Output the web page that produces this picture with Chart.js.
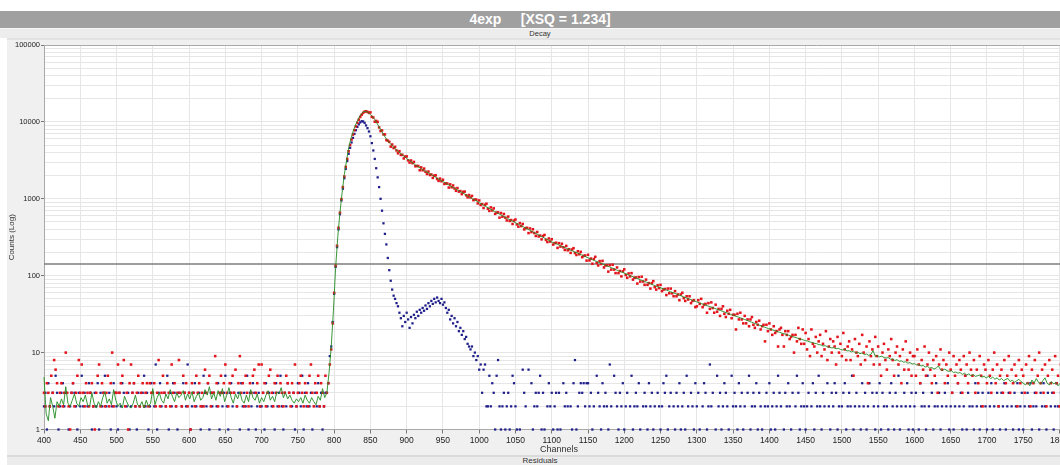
<!DOCTYPE html>
<html>
<head>
<meta charset="utf-8">
<title>4exp decay</title>
<script src="https://cdn.jsdelivr.net/npm/chart.js@4.4.1/dist/chart.umd.min.js"></script>
<style>
  html, body { margin: 0; padding: 0; }
  body {
    width: 1060px; height: 465px; overflow: hidden; position: relative;
    background: #ffffff; font-family: "Liberation Sans", Arial, sans-serif;
  }
  #titlebar {
    position: absolute; left: 0; top: 11px; width: 1080px; height: 17px;
    background: #a0a0a0; color: #ffffff; font-weight: bold; font-size: 14px;
    line-height: 17px; text-align: center; white-space: pre;
  }
  #subbar {
    position: absolute; left: 0; top: 28px; width: 1080px; height: 10px;
    background: #ededed; border-top: 1px solid #f6f6f6; box-sizing: border-box;
    color: #333; font-size: 7.5px; line-height: 9px; text-align: center;
  }
  #panel {
    position: absolute; left: 7px; top: 38px; width: 1100px; height: 417px;
    background: #f0f0f0; border-top: 2px solid #e2e2e2; box-sizing: border-box;
  }
  #decay { position: absolute; left: 0; top: 38px; }
  #resbar {
    position: absolute; left: 7px; top: 455px; width: 1100px; height: 10px;
    background: #ececec; border-top: 2px solid #dadada; box-sizing: border-box;
    color: #333; font-size: 8px; line-height: 8px; text-align: center;
  }
  #resbar span { position: absolute; left: 533px; transform: translateX(-50%); }
</style>
</head>
<body>
<div id="titlebar">4exp     [XSQ = 1.234]</div>
<div id="subbar">Decay</div>
<div id="panel"></div>
<canvas id="decay" width="1090" height="417"></canvas>
<div id="resbar"><span>Residuals</span></div>

<script>
/***************************************
 * 1. Data (counts per channel)
 ***************************************/
const firstChannel = 400;
const sampleStep = 2;   // decay + IRF channels: 400, 402, ...
const fitStep = 3;      // fit curve channels: 400, 403, ...

const channelTicks = [400, 450, 500, 550, 600, 650, 700, 750, 800, 850, 900, 950, 1000,
  1050, 1100, 1150, 1200, 1250, 1300, 1350, 1400, 1450, 1500, 1550, 1600, 1650, 1700, 1750, 1800];
const decadeLabels = ['1', '10', '100', '1000', '10000', '100000'];
const refLevel = 142;

// measured decay, one line per 50 channels
const decayCounts = [
  3,2,4,3,2,5,3,8,6,4,2,3,4,2,3,10,3,2,1,3,4,2,3,5,8,
  3,7,3,2,4,3,2,3,4,2,1,3,5,7,2,4,3,2,3,5,2,4,10,2,3,
  3,7,3,4,5,8,2,3,1,4,7,3,4,2,3,5,2,3,4,2,3,4,2,4,3,
  3,4,2,3,8,2,3,5,3,2,4,3,2,7,3,4,2,3,8,3,2,5,3,4,2,
  3,1,4,3,2,5,3,4,2,3,2,6,3,4,5,2,3,3,9,4,2,3,5,3,4,
  7,3,2,4,3,5,3,6,2,4,9,3,4,2,5,3,2,4,3,5,6,3,4,7,2,
  7,3,4,2,3,5,6,3,2,4,3,5,2,4,3,2,3,5,4,3,2,4,3,7,2,
  3,4,5,3,2,4,3,2,5,7,3,2,4,3,5,2,4,3,2,5,3,4,7,11,24,
  60,135,245,420,660,990,1420,1950,2600,3300,4150,5000,5900,6850,7800,8750,9750,10700,11600,12400,13100,13600,13750,13500,13100,
  13300,11640,11410,10060,10300,10000,8480,7600,7750,6880,6870,5810,5700,5510,4770,5080,4570,4730,4250,3910,4160,3720,3730,3350,3540,
  3560,3160,2960,3150,2910,3020,2650,2680,2660,2350,2560,2350,2470,2250,2100,2260,2040,2070,1870,2000,2020,1810,1710,1830,1690,
  1770,1560,1590,1580,1400,1540,1410,1490,1360,1270,1380,1240,1260,1150,1230,1240,1110,1045,1120,1040,1090,960,980,974,870,
  952,831,853,759,837,864,742,695,773,705,751,637,662,665,568,653,584,635,569,523,587,515,529,471,520,
  538,464,434,483,442,471,400,416,419,358,412,369,402,359,329,370,324,333,297,328,339,292,274,305,278,
  298,254,265,268,230,265,239,260,234,216,244,214,221,198,219,228,197,186,208,190,204,174,181,183,157,
  187,158,167,143,165,176,147,136,155,142,156,128,136,137,113,138,120,139,120,108,128,108,115,98,114,
  121,102,94,107,98,108,89,94,95,79,96,84,97,84,76,89,76,80,68,80,85,71,66,75,69,
  76,63,66,67,56,68,59,68,59,54,63,54,57,48,57,60,51,47,54,49,54,44,47,48,39,
  40,48,43,50,39,42,43,33,44,37,45,38,33,42,34,37,30,37,40,32,29,35,32,36,28,
  31,31,20,32,27,33,27,24,30,24,27,22,27,29,23,21,25,23,26,20,22,23,14,23,19,
  24,20,17,22,18,19,12,20,21,17,12,19,17,19,15,16,17,10,17,14,21,15,13,20,13,
  18,11,15,9,20,13,12,16,10,14,17,9,13,11,19,8,12,15,10,14,12,7,16,10,13,
  9,18,11,8,12,14,8,11,5,15,10,9,13,7,17,10,8,12,4,14,9,11,7,16,9,
  12,7,5,10,13,8,6,11,9,15,8,5,10,12,7,9,4,11,6,14,8,6,10,5,9,
  9,5,11,7,4,8,6,12,5,7,10,6,4,8,5,9,3,7,11,6,8,4,7,5,10,
  6,3,9,5,7,4,8,6,3,9,5,7,4,10,6,5,8,3,6,4,9,5,2,7,6,
  4,8,5,3,6,10,4,7,2,5,6,3,8,4,5,9,3,6,4,7,5,2,8,4,6,
  5,3,7,4,9,2,6,4,8,3,5,10,4,6,3,7,2,5,8,4,6,3,9,4,5,
  2,7,4,6,3,8,5,4,6,2,9,3,5,7,4,3,6,4,8,5,2,7,4,3,6
];

// instrument response (IRF), same channels
const irfCounts = [
  2,3,1,4,2,0,3,2,5,3,1,2,3,4,2,3,0,1,2,3,4,3,2,1,3,
  2,5,2,3,0,2,4,3,1,2,3,2,4,1,3,2,3,5,2,0,3,1,2,4,3,
  2,1,3,2,4,3,0,2,3,1,2,3,4,2,1,3,2,0,3,5,2,3,1,2,4,
  3,2,7,1,3,4,2,0,3,2,5,1,3,2,4,3,2,1,3,0,2,4,3,2,7,
  3,1,2,3,4,2,0,3,1,2,5,3,2,4,1,3,2,3,0,2,4,1,3,2,3,
  5,2,1,3,4,2,3,0,2,3,1,4,2,3,2,5,1,3,2,4,3,1,2,3,2,
  2,3,1,4,2,3,0,2,3,1,4,2,3,5,2,1,3,2,4,3,0,2,3,1,2,
  4,3,2,5,1,3,2,4,2,3,1,0,3,2,4,2,3,1,2,3,3,4,9,12,25,
  58,130,235,400,630,950,1350,1850,2450,3100,3850,4600,5400,6200,7000,7800,8600,9300,9850,10200,10150,9700,9000,8300,7500,
  6500,5300,4250,3300,2500,1900,1420,1000,700,480,350,255,170,118,86,66,55,50,44,40,33,28,22,30,25,
  33,27,21,29,24,31,28,34,30,36,33,38,35,41,37,44,40,47,43,50,45,52,47,44,50,
  42,45,38,33,36,27,30,24,28,22,25,19,21,17,19,15,16,13,12,11,12,9,10,8,9,
  6,7,3,6,7,2,2,5,2,4,3,1,5,8,2,1,2,3,1,2,3,1,2,5,4,
  2,1,0,1,0,6,3,2,0,6,0,4,1,2,3,2,3,5,1,3,1,0,2,4,2,
  3,1,2,3,1,3,1,0,4,2,3,2,0,2,1,4,8,1,2,3,4,3,4,2,4,
  4,2,3,1,2,0,5,3,2,1,4,2,3,2,1,7,2,0,5,3,2,1,3,2,4,
  1,2,3,0,2,5,1,2,3,2,4,1,0,2,3,2,1,4,2,3,1,2,0,3,2,
  1,2,4,3,5,1,2,3,0,2,1,3,2,4,1,2,3,1,5,2,0,3,2,1,4,
  2,3,1,0,2,4,3,1,2,7,2,3,0,1,5,2,3,1,2,4,3,2,1,0,5,
  2,3,2,1,4,2,3,1,2,0,3,5,1,2,3,2,4,1,3,2,1,0,2,3,2,
  4,1,2,3,1,2,5,3,2,0,1,3,2,4,2,1,3,0,2,5,3,1,2,4,2,
  1,2,3,0,2,4,1,3,2,5,2,1,3,2,0,4,2,1,3,2,4,3,1,2,0,
  2,3,4,1,2,3,2,5,1,2,3,0,2,1,4,2,3,1,2,4,0,3,2,1,3,
  2,4,1,3,2,0,2,1,3,4,2,1,3,2,5,1,2,0,3,2,4,1,2,3,1,
  2,3,0,1,4,2,3,2,1,5,2,0,3,1,2,4,2,3,1,2,0,3,2,4,1,
  2,3,1,2,0,4,2,3,1,2,5,1,3,2,0,2,1,4,2,3,1,2,3,0,2,
  1,3,2,4,1,2,0,3,2,1,3,2,4,1,2,3,0,2,1,3,2,4,1,2,3,
  1,2,0,3,2,4,1,2,3,2,0,1,3,2,4,2,1,3,0,2,3,1,2,4,2,
  0,3,1,2,3,2,1,4,2,0,3,2,1,3,2,4,1,2,0,3,2,1,2,3,1
];

// 4-exponential fit, one line per 150 channels
const fitCounts = [
  4.8,1.6,1.3,2.6,2.0,1.4,2.3,2.0,2.5,2.1,3.6,2.2,2.0,2.4,2.9,2.2,2.0,2.6,2.3,2.8,2.1,2.0,3.0,2.2,1.9,2.3,2.0,2.6,3.1,2.2,2.5,2.1,3.3,2.4,2.0,2.2,1.9,2.7,2.3,2.0,1.9,2.2,2.8,2.1,2.0,2.3,1.9,2.4,2.0,2.2,
  3.4,2.1,2.6,3.0,2.4,2.2,2.9,2.5,3.3,2.7,2.3,3.0,2.6,2.8,3.2,2.4,2.9,2.5,3.1,2.3,2.7,3.0,2.4,2.6,3.3,2.8,3.6,2.5,3.0,2.4,3.2,2.7,3.4,2.3,2.8,3.5,2.6,2.2,2.9,2.5,3.1,2.4,2.2,2.8,2.3,3.3,2.6,2.4,2.9,2.2,
  2.6,2.3,2.8,3.2,2.4,2.7,2.3,3.1,2.9,3.5,2.6,3.0,2.5,2.8,2.4,2.2,2.5,2.3,2.6,2.2,2.8,2.4,2.2,2.6,2.3,2.1,2.7,2.4,3.4,2.6,3.0,5.5,12,35,125,320,660,1200,2050,3100,4600,6000,7500,8900,10300,11700,12900,13600,13700,13200,
  12500,11700,10700,9600,8600,7700,6900,6200,5700,5250,4900,4600,4320,4080,3860,3660,3470,3300,3140,2990,2850,2720,2610,2500,2400,2310,2220,2140,2060,1980,1905,1835,1765,1700,1635,1575,1515,1460,1405,1355,1305,1255,1210,1165,1120,1080,1040,1000,965,930,
  890,855,825,795,765,738,712,686,662,638,616,595,575,555,536,518,500,483,467,451,436,421,407,393,380,367,354,342,330,319,308,298,288,278,270,263,255,248,241,234,228,221,215,209,203,198,192,187,181,176,
  171,166,162,157,153,149,145,141,137,133,130,126,123,119,116,113,110,107,104,101,98.6,96,93.5,91,88.7,86.4,84.2,82,79.9,77.8,75.8,73.9,72,70.2,68.4,66.7,65,63.4,61.8,60.2,58.7,57.2,55.8,54.4,53,51.7,50.4,49.1,47.9,46.7,
  45.6,44.5,43.5,42.5,41.5,40.5,39.6,38.6,37.7,36.8,36,35.1,34.3,33.5,32.7,31.9,31.2,30.4,29.7,29,28.3,27.6,26.9,26.3,25.6,25,24.4,23.8,23.2,22.6,22.1,21.5,21,20.5,20.1,19.6,19.2,18.8,18.4,18,17.6,17.3,16.9,16.5,16.2,15.8,15.5,15.2,14.9,14.6,
  14.3,14.1,13.7,13.6,13.2,13.1,12.7,12.6,12.2,12.3,11.9,11.8,11.5,11.6,11.2,11.4,11.0,10.8,11.1,10.5,10.6,10.2,10.4,9.9,10.1,9.7,9.9,9.4,9.6,9.2,9.5,10.6,9.0,9.1,8.8,9.0,8.6,8.5,8.6,8.2,8.3,7.9,8.1,7.7,7.8,7.5,7.6,7.3,7.4,7.1,
  7.2,6.9,7.0,6.7,6.8,6.5,6.6,6.3,6.4,6.1,6.3,6.7,6.0,5.9,6.1,5.8,5.7,5.8,5.5,5.6,5.4,5.5,5.2,5.4,5.1,5.3,5.0,5.2,4.9,5.0,5.1,4.8,4.9,4.7,4.9,4.6,4.8,4.5,4.7,4.4,4.6,4.3,4.5,4.6,4.2,4.4,4.1,4.3,4.5,4.2,
  4.0,3.8,4.1,3.7,4.4,4.0,4.6,4.1,3.9,4.3,4.7,4.0,3.8,4.2,3.9,4.1,3.7,4.0,3.8,4.2,3.9,3.7,4.0,3.8,4.1,3.7,3.9,3.6,4.0,3.8,3.7,3.9,3.6,3.8
];

/***************************************
 * 2. Helpers
 ***************************************/
function toPoints(values, step) {
    return values.map((v, i) => ({ x: firstChannel + i * step, y: v > 0 ? v : null }));
}

// log grid: 1..9 in every decade
const countTicks = [];
decadeLabels.forEach((label, d) => {
    const base = Math.pow(10, d);
    const last = d === decadeLabels.length - 1 ? 1 : 9;
    for (let m = 1; m <= last; m++) countTicks.push(m * base);
});
function decadeIndex(value) {
    return decadeLabels.findIndex((label, k) => Math.pow(10, k) === value);
}

// white plot area + top frame line
const plotFrame = {
    id: 'plotFrame',
    beforeDraw: function(chart) {
        const a = chart.chartArea;
        const ctx = chart.ctx;
        ctx.save();
        ctx.fillStyle = '#ffffff';
        ctx.fillRect(a.left, a.top, a.right - a.left, a.bottom - a.top);
        ctx.restore();
    },
    afterDraw: function(chart) {
        const a = chart.chartArea;
        const ctx = chart.ctx;
        ctx.save();
        ctx.strokeStyle = '#a9a9a9';
        ctx.lineWidth = 1;
        ctx.beginPath();
        ctx.moveTo(a.left, Math.round(a.top) + 0.5);
        ctx.lineTo(a.right, Math.round(a.top) + 0.5);
        ctx.stroke();
        ctx.restore();
    }
};

/***************************************
 * 3. Chart
 ***************************************/
const tickFont = { family: '"Liberation Sans", Arial, sans-serif', size: 8.5 };

const decayChart = new Chart(document.getElementById('decay').getContext('2d'), {
    type: 'scatter',
    data: {
        datasets: [
            {
                label: 'Fit',
                type: 'line',
                data: toPoints(fitCounts, fitStep),
                borderColor: 'rgba(34, 140, 34, 0.9)',
                borderWidth: 1,
                pointRadius: 0,
                tension: 0,
                fill: false,
                clip: false
            },
            {
                label: 'Decay',
                data: toPoints(decayCounts, sampleStep),
                pointStyle: 'rect',
                pointRadius: 1.8,
                pointBorderWidth: 0,
                pointBackgroundColor: '#e3141c',
                clip: false
            },
            {
                label: 'IRF',
                data: toPoints(irfCounts, sampleStep),
                pointStyle: 'rect',
                pointRadius: 1.6,
                pointBorderWidth: 0,
                pointBackgroundColor: '#1e1e8a',
                clip: false
            },
            {
                label: 'Level',
                type: 'line',
                data: [{ x: channelTicks[0], y: refLevel }, { x: 1820, y: refLevel }],
                borderColor: '#7c7c7c',
                borderWidth: 1.5,
                pointRadius: 0
            }
        ]
    },
    options: {
        responsive: false,
        animation: false,
        events: [],
        layout: { padding: { top: 7, right: 16, left: 0, bottom: 0 } },
        plugins: { legend: { display: false }, tooltip: { enabled: false } },
        scales: {
            x: {
                type: 'linear',
                min: 400,
                max: 1820,
                afterBuildTicks: function(scale) {
                    scale.ticks = channelTicks.map(v => ({ value: v }));
                },
                afterFit: function(scale) { scale.height = 25.5; },
                grid: { color: '#e6e6e6', tickLength: 4, tickColor: '#777' },
                border: { color: '#a9a9a9' },
                ticks: {
                    autoSkip: false, maxRotation: 0, padding: 2, color: '#222', font: tickFont,
                    callback: value => String(value)
                },
                title: {
                    display: true, text: 'Channels', color: '#333',
                    font: { family: '"Liberation Sans", Arial, sans-serif', size: 9 },
                    padding: { top: 0, bottom: 0 }
                }
            },
            y: {
                type: 'logarithmic',
                min: 1,
                max: 100000,
                afterBuildTicks: function(scale) {
                    scale.ticks = countTicks.map(v => ({ value: v }));
                },
                afterFit: function(scale) { scale.width = 44; },
                grid: {
                    color: '#e6e6e6',
                    tickLength: 3,
                    tickColor: ctx => (ctx.tick && decadeIndex(ctx.tick.value) >= 0) ? '#777' : 'rgba(0,0,0,0)'
                },
                border: { color: '#a9a9a9' },
                ticks: {
                    autoSkip: false, padding: 1, color: '#222',
                    font: { family: '"Liberation Sans", Arial, sans-serif', size: 7.5 },
                    callback: function(value) {
                        const d = decadeIndex(value);
                        return d >= 0 ? decadeLabels[d] : '';
                    }
                },
                title: {
                    display: true, text: 'Counts (Log)', color: '#333',
                    font: { family: '"Liberation Sans", Arial, sans-serif', size: 8 },
                    padding: { top: 7, bottom: 0 }
                }
            }
        }
    },
    plugins: [plotFrame]
});
</script>
</body>
</html>
